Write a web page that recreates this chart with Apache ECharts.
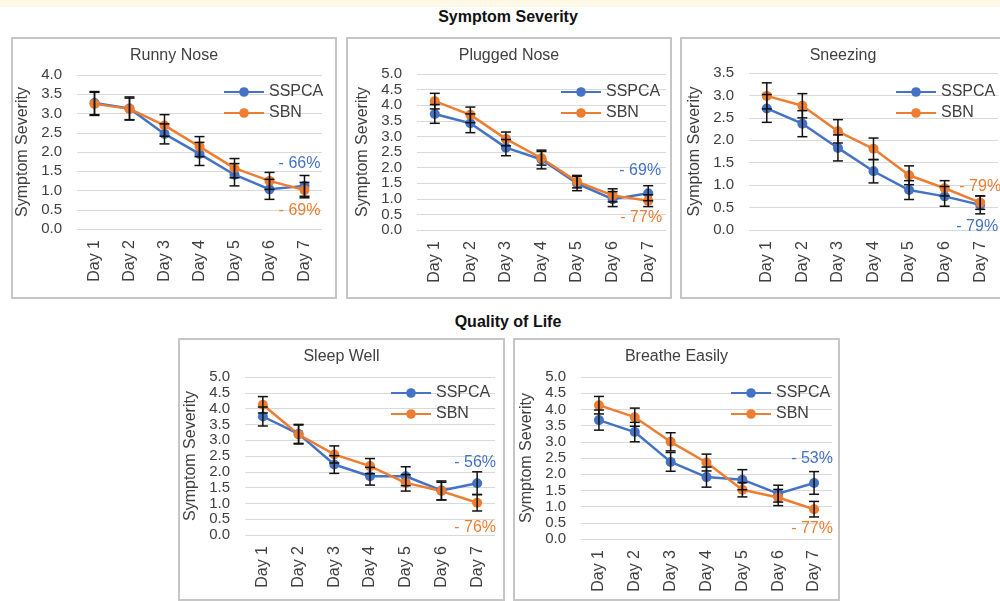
<!DOCTYPE html>
<html>
<head>
<meta charset="utf-8">
<script src="https://cdn.jsdelivr.net/npm/echarts@6/dist/echarts.min.js"></script>
<style>
    body { margin: 0; background: #fff; font-family: "Liberation Sans", Arial, sans-serif; }
    #page { position: relative; width: 1000px; height: 601px; overflow: hidden; }
    .strip { position: absolute; left: 0; top: 0; width: 1000px; height: 7px; background: #fef9e6; }
    .heading { position: absolute; left: 0; width: 1016px; text-align: center; font-weight: bold; font-size: 16px; color: #111; }
    .panel { position: absolute; box-sizing: border-box; border: 2px solid #c6c6c6; }
    .chart { position: absolute; }
</style>
</head>
<body>
<div id="page">
    <div class="strip"></div>
    <div class="heading" style="top: 8px;">Symptom Severity</div>
    <div class="heading" style="top: 313px;">Quality of Life</div>
</div>
<script>
// 横轴：天数
var days = ['Day 1', 'Day 2', 'Day 3', 'Day 4', 'Day 5', 'Day 6', 'Day 7'];

// Runny Nose
var runnySSPCA = [3.27, 3.13, 2.47, 1.95, 1.41, 1.03, 1.12];
var runnySSPCAErr = [0.30, 0.30, 0.26, 0.30, 0.29, 0.26, 0.27];
var runnySBN = [3.25, 3.12, 2.69, 2.14, 1.58, 1.25, 1.01];
var runnySBNErr = [0.30, 0.28, 0.28, 0.26, 0.25, 0.22, 0.20];

// Plugged Nose
var pluggedSSPCA = [3.72, 3.42, 2.64, 2.26, 1.49, 0.99, 1.18];
var pluggedSSPCAErr = [0.30, 0.30, 0.26, 0.30, 0.23, 0.24, 0.24];
var pluggedSBN = [4.13, 3.69, 2.92, 2.30, 1.55, 1.11, 0.94];
var pluggedSBNErr = [0.25, 0.25, 0.22, 0.22, 0.20, 0.21, 0.19];

// Sneezing
var sneezeSSPCA = [2.71, 2.37, 1.83, 1.31, 0.89, 0.75, 0.56];
var sneezeSSPCAErr = [0.31, 0.29, 0.29, 0.26, 0.21, 0.22, 0.20];
var sneezeSBN = [2.99, 2.77, 2.20, 1.81, 1.22, 0.93, 0.61];
var sneezeSBNErr = [0.29, 0.27, 0.26, 0.24, 0.21, 0.17, 0.15];

// Sleep Well
var sleepSSPCA = [3.75, 3.20, 2.23, 1.86, 1.86, 1.41, 1.64];
var sleepSSPCAErr = [0.30, 0.30, 0.28, 0.28, 0.30, 0.30, 0.36];
var sleepSBN = [4.12, 3.18, 2.55, 2.18, 1.65, 1.39, 1.02];
var sleepSBNErr = [0.26, 0.30, 0.27, 0.24, 0.26, 0.28, 0.26];

// Breathe Easily
var breatheSSPCA = [3.67, 3.30, 2.38, 1.91, 1.83, 1.40, 1.73];
var breatheSSPCAErr = [0.31, 0.30, 0.29, 0.31, 0.31, 0.26, 0.35];
var breatheSBN = [4.13, 3.76, 3.00, 2.36, 1.52, 1.28, 0.92];
var breatheSBNErr = [0.27, 0.28, 0.28, 0.26, 0.22, 0.25, 0.24];

// 第7天的降幅标注
var dropSSPCA = ['- 66%', '- 69%', '- 79%', '- 56%', '- 53%'];
var dropSBN = ['- 69%', '- 77%', '- 79%', '- 76%', '- 77%'];

var titles = ['Runny Nose', 'Plugged Nose', 'Sneezing', 'Sleep Well', 'Breathe Easily'];
var yMax = [4, 5, 3.5, 5, 5];

var BLUE = '#4472c4';
var ORANGE = '#ed7d31';
var FONT = '"Liberation Sans", Arial, sans-serif';

/**
 * 每个小图的位置和标注位置
 */
var panels = [
    { left: 11, top: 37, w: 326, h: 262, grid: [38, 15, 70, 66], legendLeft: 207,
      sspca: { v: dropSSPCA[0], pos: 'top', dist: 9, dx: -5 }, sbn: { v: dropSBN[0], pos: 'bottom', dist: 7, dx: -5 },
      s: runnySSPCA, se: runnySSPCAErr, b: runnySBN, be: runnySBNErr },
    { left: 346, top: 37, w: 326, h: 262, grid: [37, 6, 69, 71], legendLeft: 209,
      sspca: { v: dropSSPCA[1], pos: 'top', dist: 10, dx: -8 }, sbn: { v: dropSBN[1], pos: 'bottom', dist: 4, dx: -7 },
      s: pluggedSSPCA, se: pluggedSSPCAErr, b: pluggedSBN, be: pluggedSBNErr },
    { left: 680, top: 37, w: 326, h: 262, grid: [36, 8, 69, 69], legendLeft: 210,
      sspca: { v: dropSSPCA[2], pos: 'bottom', dist: 9, dx: -3 }, sbn: { v: dropSBN[2], pos: 'top', dist: 3, dx: 0 },
      s: sneezeSSPCA, se: sneezeSSPCAErr, b: sneezeSBN, be: sneezeSBNErr },
    { left: 178, top: 338, w: 327, h: 263, grid: [39, 10, 66, 67], legendLeft: 207,
      sspca: { v: dropSSPCA[3], pos: 'top', dist: 8, dx: -2 }, sbn: { v: dropSBN[3], pos: 'bottom', dist: 12, dx: -2 },
      s: sleepSSPCA, se: sleepSSPCAErr, b: sleepSBN, be: sleepSBNErr },
    { left: 513, top: 338, w: 327, h: 263, grid: [39, 8, 62, 68], legendLeft: 212,
      sspca: { v: dropSSPCA[4], pos: 'top', dist: 11, dx: -2 }, sbn: { v: dropSBN[4], pos: 'bottom', dist: 6, dx: -2 },
      s: breatheSSPCA, se: breatheSSPCAErr, b: breatheSBN, be: breatheSBNErr }
];

/**
 * 误差线
 */
function renderErr(params, api) {
    var hi = api.coord([api.value(0), api.value(2)]);
    var lo = api.coord([api.value(0), api.value(1)]);
    var w = 5;
    var st = { stroke: '#111', lineWidth: 1.5 };
    return {
        type: 'group',
        children: [
            { type: 'line', shape: { x1: hi[0], y1: hi[1], x2: lo[0], y2: lo[1] }, style: st },
            { type: 'line', shape: { x1: hi[0] - w, y1: hi[1], x2: hi[0] + w, y2: hi[1] }, style: st },
            { type: 'line', shape: { x1: lo[0] - w, y1: lo[1], x2: lo[0] + w, y2: lo[1] }, style: st }
        ]
    };
}

function errData(vals, errs) {
    return vals.map(function (v, i) { return [i, v - errs[i], v + errs[i]]; });
}

// 最后一个点加上降幅文字
function lineData(vals, lbl, color) {
    return vals.map(function (v, i) {
        if (i !== vals.length - 1) return v;
        return {
            value: v,
            label: { show: true, formatter: lbl.v, position: lbl.pos, distance: lbl.dist,
                     offset: [lbl.dx, 0], color: color, fontSize: 16, fontFamily: FONT }
        };
    });
}

function lineSeries(name, vals, lbl, color) {
    return {
        name: name, type: 'line', data: lineData(vals, lbl, color),
        symbol: 'circle', symbolSize: 10, z: 3,
        lineStyle: { color: color, width: 2.5 },
        itemStyle: { color: color }
    };
}

function errSeries(vals, errs) {
    return { type: 'custom', renderItem: renderErr, data: errData(vals, errs), z: 4, silent: true };
}

function buildChart(i) {
    var p = panels[i];
    var page = document.getElementById('page');
    var box = document.createElement('div');
    box.className = 'panel';
    box.style.cssText = 'left:' + p.left + 'px;top:' + p.top + 'px;width:' + p.w + 'px;height:' + p.h + 'px;';
    page.appendChild(box);
    var el = document.createElement('div');
    el.className = 'chart';
    el.style.cssText = box.style.cssText;
    page.appendChild(el);

    var chart = echarts.init(el);
    chart.setOption({
        animation: false,
        textStyle: { fontFamily: FONT },
        title: {
            text: titles[i], left: 'center', top: 6,
            textStyle: { fontSize: 16, fontWeight: 'normal', color: '#404040', fontFamily: FONT }
        },
        legend: {
            data: ['SSPCA', 'SBN'], orient: 'vertical', left: p.legendLeft, top: 42,
            itemWidth: 40, itemHeight: 12, itemGap: 5,
            textStyle: { fontSize: 16, color: '#404040', fontFamily: FONT }
        },
        grid: { top: p.grid[0], right: p.grid[1], bottom: p.grid[2], left: p.grid[3], outerBoundsMode: 'none' },
        xAxis: {
            type: 'category', data: days,
            axisLine: { show: false }, axisTick: { show: false },
            axisLabel: { rotate: 90, fontSize: 16, color: '#404040', margin: 11, fontFamily: FONT }
        },
        yAxis: {
            type: 'value', min: 0, max: yMax[i], interval: 0.5,
            name: 'Symptom Severity', nameLocation: 'middle', nameGap: 40,
            nameTextStyle: { fontSize: 16, color: '#404040', fontFamily: FONT },
            axisLabel: {
                margin: 15, showMinLabel: true, showMaxLabel: true,
                fontSize: 15, color: '#404040', fontFamily: FONT,
                formatter: function (v) { return v.toFixed(1); }
            },
            splitLine: { lineStyle: { color: '#d9d9d9', width: 1 } }
        },
        series: [
            lineSeries('SSPCA', p.s, p.sspca, BLUE),
            lineSeries('SBN', p.b, p.sbn, ORANGE),
            errSeries(p.s, p.se),
            errSeries(p.b, p.be)
        ]
    });
}

for (var i = 0; i < panels.length; i++) {
    buildChart(i);
}
</script>
</body>
</html>
